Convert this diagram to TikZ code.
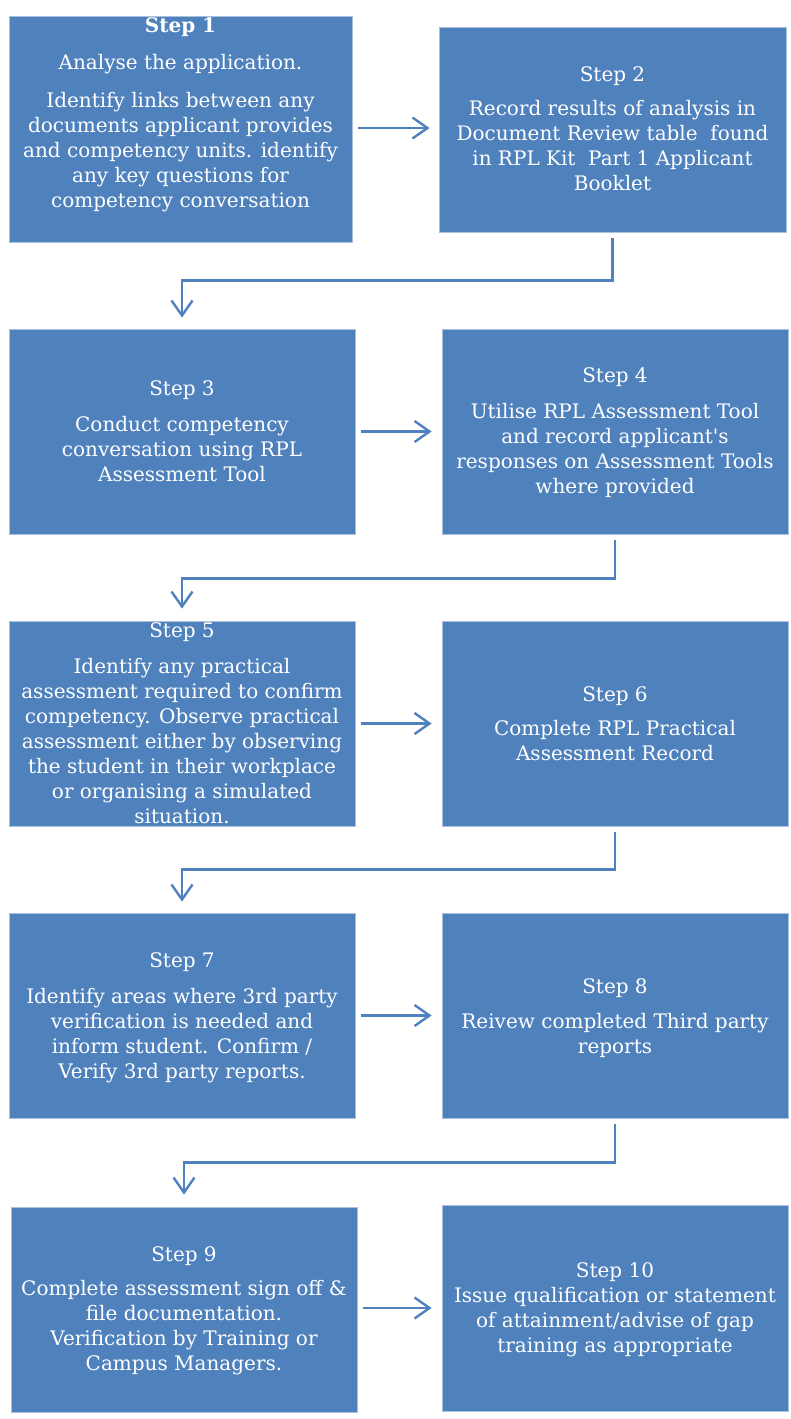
\documentclass[tikz,border=0pt]{standalone}
\usepackage{fontspec}
\setmainfont{DejaVu Serif}
\newfontfamily\plainquote{DejaVu Serif}[Ligatures=ResetAll]
\usetikzlibrary{arrows.meta}
\definecolor{boxblue}{HTML}{4F81BD}
\definecolor{boxedge}{HTML}{A9C0DF}
\begin{document}
\begin{tikzpicture}[x=1pt,y=-1pt,
  stepbox/.style={fill=boxblue, draw=boxedge, line width=0.8pt, inner sep=0pt},
  steptext/.style={text=white, font=\fontsize{20}{25}\selectfont, align=center, anchor=north, inner sep=0pt},
  arr/.style={draw=boxblue, line width=2.4pt, line cap=butt, -{Straight Barb[length=15pt, width=21pt]}}]
\useasboundingbox (0,0) rectangle (791,1419);
% boxes
\node[stepbox, minimum width=343pt, minimum height=226pt] (s1) at (180.5,129) {};
\node[stepbox, minimum width=347pt, minimum height=205pt] (s2) at (612.5,129.5) {};
\node[stepbox, minimum width=346pt, minimum height=205pt] (s3) at (182,431.5) {};
\node[stepbox, minimum width=346pt, minimum height=205pt] (s4) at (615,431.5) {};
\node[stepbox, minimum width=346pt, minimum height=205pt] (s5) at (182,723.5) {};
\node[stepbox, minimum width=346pt, minimum height=205pt] (s6) at (615,723.5) {};
\node[stepbox, minimum width=346pt, minimum height=205pt] (s7) at (182,1015.5) {};
\node[stepbox, minimum width=346pt, minimum height=205pt] (s8) at (615,1015.5) {};
\node[stepbox, minimum width=346pt, minimum height=205pt] (s9) at (184,1309.5) {};
\node[stepbox, minimum width=346pt, minimum height=206pt] (s10) at (615,1308) {};
% texts
\node[steptext] (t1) at (180.5,14.5) {\strut\textbf{Step 1}\\[12pt]\strut Analyse the application.\\[13pt]\strut Identify links between any\\\strut documents applicant provides\\\strut and competency units. identify\\\strut any key questions for\\\strut competency conversation};
\node[steptext] (t2) at (612.5,63.5) {\strut Step 2\\[9pt]\strut Record results of analysis in\\\strut Document Review table~ found\\\strut in RPL Kit~ Part 1 Applicant\\\strut Booklet};
\node[steptext] (t3) at (182,377.5) {\strut Step 3\\[11pt]\strut Conduct competency\\\strut conversation using RPL\\\strut Assessment Tool};
\node[steptext] (t4) at (615,364.5) {\strut Step 4\\[11pt]\strut Utilise RPL Assessment Tool\\\strut and record applicant{\plainquote '}s\\\strut responses on Assessment Tools\\\strut where provided};
\node[steptext] (t5) at (182,619.5) {\strut Step 5\\[11pt]\strut Identify any practical\\\strut assessment required to confirm\\\strut competency. Observe practical\\\strut assessment either by observing\\\strut the student in their workplace\\\strut or organising a simulated\\\strut situation.};
\node[steptext] (t6) at (615,683.5) {\strut Step 6\\[9pt]\strut Complete RPL Practical\\\strut Assessment Record};
\node[steptext] (t7) at (182,949.5) {\strut Step 7\\[11pt]\strut Identify areas where 3rd party\\\strut verification is needed and\\\strut inform student. Confirm /\\\strut Verify 3rd party reports.};
\node[steptext] (t8) at (615,975.5) {\strut Step 8\\[10pt]\strut Reivew completed Third party\\\strut reports};
\node[steptext] (t9) at (184,1243.5) {\strut Step 9\\[9pt]\strut Complete assessment sign off \&\\\strut file documentation.\\\strut Verification by Training or\\\strut Campus Managers.};
\node[steptext] (t10) at (615,1259.5) {\strut Step 10\\\strut Issue qualification or statement\\\strut of attainment/advise of gap\\\strut training as appropriate};
% horizontal arrows
\draw[arr] ([xshift=6pt]s1.east |- 0,128) -- ([xshift=-9pt]s2.west |- 0,128);
\draw[arr] ([xshift=6pt]s3.east) -- ([xshift=-10pt]s4.west);
\draw[arr] ([xshift=6pt]s5.east) -- ([xshift=-10pt]s6.west);
\draw[arr] ([xshift=6pt]s7.east) -- ([xshift=-10pt]s8.west);
\draw[arr] ([xshift=6pt]s9.east |- 0,1308) -- ([xshift=-10pt]s10.west);
% elbow connectors
\draw[arr] ([yshift=-6pt]s2.south) -- ++(0,42) -| ([yshift=11pt]s3.north);
\draw[arr] ([yshift=-6pt]s4.south) -- ++(0,38) -| ([yshift=12pt]s5.north);
\draw[arr] ([yshift=-6pt]s6.south) -- ++(0,37) -| ([yshift=11pt]s7.north);
\draw[arr] ([yshift=-6pt]s8.south) -- ++(0,38) -| ([yshift=12pt]s9.north);
\end{tikzpicture}
\end{document}
